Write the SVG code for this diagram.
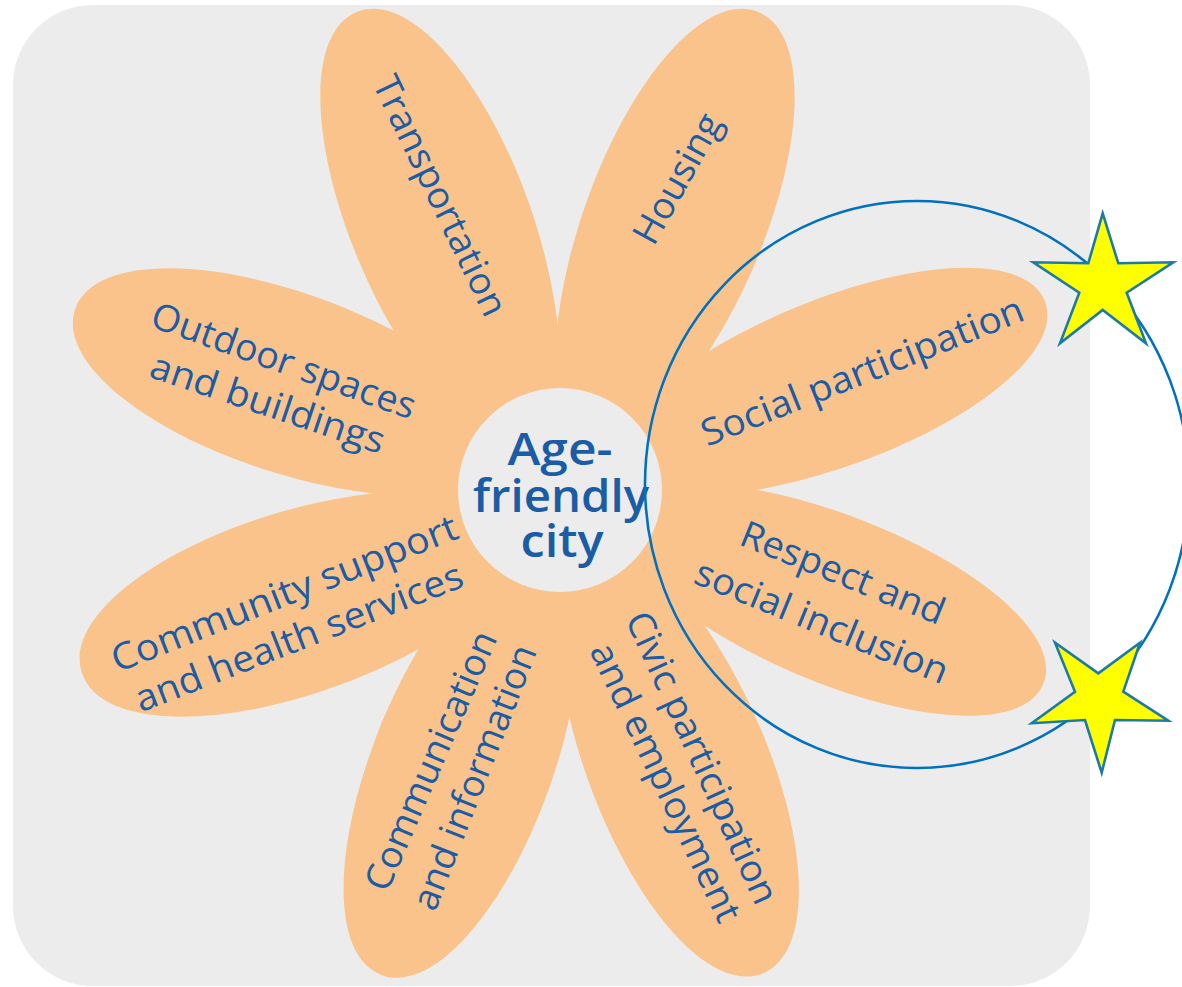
<svg xmlns="http://www.w3.org/2000/svg" xmlns:xlink="http://www.w3.org/1999/xlink" width="1182" height="987" viewBox="0 0 1182 987">
<style>
.petal{fill:#fac38b}
.lbl{font-family:"Open Sans","Noto Sans","Liberation Sans",sans-serif;font-size:37px;fill:#1a5ca5;text-anchor:middle}
.ctr{font-family:"Open Sans","Noto Sans","Liberation Sans",sans-serif;font-size:46px;font-weight:600;fill:#1a5ca5;text-anchor:middle}
.star{fill:#ffff00;stroke:#1b7ba6;stroke-width:2.6;stroke-linejoin:miter}
</style>
<defs>
<path id="petal" d="M -242,0 C -228,-46 -108,-90 22,-90 C 145,-90 242,-53 242,0 C 242,53 145,90 22,90 C -108,90 -228,46 -242,0 Z"/>
</defs>
<rect x="0" y="0" width="1182" height="987" fill="#ffffff"/>
<rect id="background" x="13" y="5" width="1077" height="981" rx="80" ry="80" fill="#ececec"/>
<circle cx="560" cy="490" r="140" class="petal"/>
<g id="node-transportation">
<use href="#petal" xlink:href="#petal" class="petal" transform="translate(446 237) rotate(-111.5) scale(1 1.0)"/>
<text class="lbl" transform="translate(439.5 196) rotate(64.3)" x="0" y="12" textLength="262" lengthAdjust="spacingAndGlyphs">Transportation</text>
</g>
<g id="node-housing">
<use href="#petal" xlink:href="#petal" class="petal" transform="translate(669 237) rotate(-68.5) scale(1 1.0)"/>
<text class="lbl" transform="translate(678 179) rotate(-61)" x="0" y="12" textLength="143" lengthAdjust="spacingAndGlyphs">Housing</text>
</g>
<g id="node-social-participation">
<use href="#petal" xlink:href="#petal" class="petal" transform="translate(819 388) rotate(-21) scale(1 0.93)"/>
<text class="lbl" transform="translate(862.5 372) rotate(-21.7)" x="0" y="12" textLength="344" lengthAdjust="spacingAndGlyphs">Social participation</text>
</g>
<g id="node-respect">
<use href="#petal" xlink:href="#petal" class="petal" transform="translate(819 593) rotate(22) scale(1 0.93)"/>
<text class="lbl" transform="translate(842.5 573.5) rotate(22)" x="0" y="12" textLength="217" lengthAdjust="spacingAndGlyphs">Respect and</text>
<text class="lbl" transform="translate(821.5 622.5) rotate(22.2)" x="0" y="12" textLength="270" lengthAdjust="spacingAndGlyphs">social inclusion</text>
</g>
<g id="node-civic">
<use href="#petal" xlink:href="#petal" class="petal" transform="translate(672 749) rotate(68)"/>
<text class="lbl" transform="translate(701.5 758) rotate(65.5)" x="0" y="12" textLength="317" lengthAdjust="spacingAndGlyphs">Civic participation</text>
<text class="lbl" transform="translate(665 782.5) rotate(64.6)" x="0" y="12" textLength="304" lengthAdjust="spacingAndGlyphs">and employment</text>
</g>
<g id="node-communication">
<use href="#petal" xlink:href="#petal" class="petal" transform="translate(468 749) rotate(111)"/>
<text class="lbl" transform="translate(431.5 761) rotate(-66.6)" x="0" y="12" textLength="279" lengthAdjust="spacingAndGlyphs">Communication</text>
<text class="lbl" transform="translate(475 777.5) rotate(-68.6)" x="0" y="12" textLength="281" lengthAdjust="spacingAndGlyphs">and information</text>
</g>
<g id="node-community">
<use href="#petal" xlink:href="#petal" class="petal" transform="translate(312 598) rotate(162) scale(1 1.02)"/>
<text class="lbl" transform="translate(284.5 594) rotate(-21.5)" x="0" y="12" textLength="369" lengthAdjust="spacingAndGlyphs">Community support</text>
<text class="lbl" transform="translate(299 638) rotate(-21.3)" x="0" y="12" textLength="349" lengthAdjust="spacingAndGlyphs">and health services</text>
</g>
<g id="node-outdoor">
<use href="#petal" xlink:href="#petal" class="petal" transform="translate(304 388) rotate(199)"/>
<text class="lbl" transform="translate(283.5 361.5) rotate(19.7)" x="0" y="12" textLength="278" lengthAdjust="spacingAndGlyphs">Outdoor spaces</text>
<text class="lbl" transform="translate(267.5 404) rotate(18.5)" x="0" y="12" textLength="245" lengthAdjust="spacingAndGlyphs">and buildings</text>
</g>
<g id="node-center">
<circle cx="560" cy="490" r="102" fill="#ececec"/>
<text class="ctr" x="560" y="465" textLength="105" lengthAdjust="spacingAndGlyphs">Age-</text>
<text class="ctr" x="561" y="512" textLength="176" lengthAdjust="spacingAndGlyphs">friendly</text>
<text class="ctr" x="562" y="557" textLength="83" lengthAdjust="spacingAndGlyphs">city</text>
</g>
<g id="connectors">
<ellipse cx="917" cy="484.5" rx="272" ry="283.5" fill="none" stroke="#0070c0" stroke-width="2.6"/>
</g>
<g id="node-star-top">
<polygon class="star" points="1102.7,213.3 1118.3,263.3 1173.3,262.3 1126.7,292.7 1146,343.3 1102.7,310 1060,343.3 1079.3,292.7 1033.3,262.3 1088.3,263.3"/>
</g>
<g id="node-star-bottom">
<polygon class="star" points="1101.7,772.7 1115,720 1168.3,720.7 1123.3,691.7 1140,642.7 1098.3,673.3 1055,642.7 1075,691.7 1031.7,723.3 1085,720"/>
</g>
</svg>
